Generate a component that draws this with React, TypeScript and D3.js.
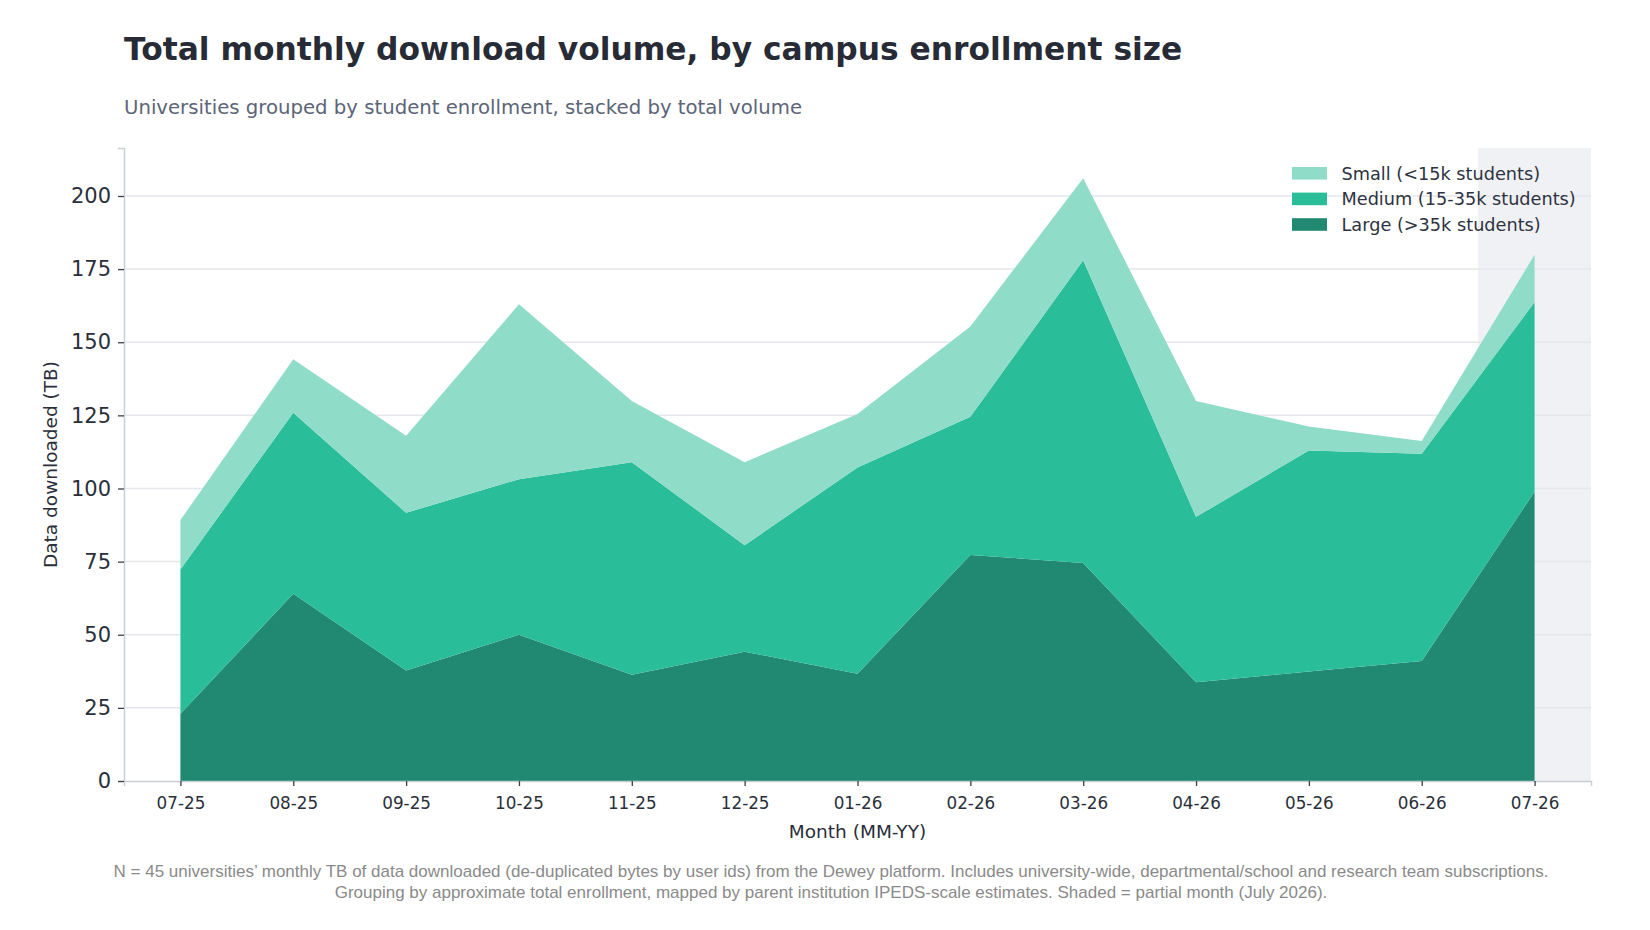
import React, { useEffect, useRef } from "react";
import * as d3 from "d3";

const months = [
  "07-25", "08-25", "09-25", "10-25", "11-25", "12-25", "01-26",
  "02-26", "03-26", "04-26", "05-26", "06-26", "07-26",
];

// TB per month
const large = [23, 64, 37.8, 50, 36.3, 44.2, 36.7, 77.3, 74.5, 33.8, 37.4, 41, 98.9];
const medium = [49.3, 61.9, 53.9, 53.2, 72.7, 36.4, 70.5, 47.2, 103.5, 56.5, 75.6, 70.9, 64.8];
const small = [16.9, 18.3, 26.3, 59.8, 20.9, 28.4, 18.3, 30.9, 28.1, 39.6, 8.2, 4.3, 16.2];

const yTicks = [0, 25, 50, 75, 100, 125, 150, 175, 200];

const seriesKeys = ["large", "medium", "small"] as const;
const seriesLabels: Record<string, string> = {
  small: "Small (<15k students)",
  medium: "Medium (15-35k students)",
  large: "Large (>35k students)",
};
const colors: Record<string, string> = {
  small: "#8fdcc9",
  medium: "#29bd9a",
  large: "#218871",
};

const partialMonth = "07-26";

const App = () => {
  const ref = useRef<SVGSVGElement | null>(null);

  useEffect(() => {
    document.body.style.margin = "0";
    const width = 1650;
    const height = 930;
    const margin = { top: 148, right: 59, bottom: 149, left: 124 };
    const w = width - margin.left - margin.right;
    const h = height - margin.top - margin.bottom;

    const svg = d3.select(ref.current);
    svg.selectAll("*").remove();

    const rows = months.map((m, i) => ({
      month: m,
      large: large[i],
      medium: medium[i],
      small: small[i],
    }));

    const x = d3.scaleLinear().domain([-0.5, months.length - 0.5]).range([0, w]);
    const maxTotal = d3.max(rows, (d) => d.large + d.medium + d.small)!;
    const y = d3.scaleLinear().domain([0, maxTotal * 1.05]).range([h, 0]);

    const g = svg
      .append("g")
      .attr("transform", `translate(${margin.left},${margin.top})`);

    // Partial month shading
    const pi = months.indexOf(partialMonth);
    g.append("rect")
      .attr("x", x(pi - 0.5))
      .attr("y", 0)
      .attr("width", x(pi + 0.5) - x(pi - 0.5))
      .attr("height", h)
      .attr("fill", "#f0f1f5");

    // Grid
    g.append("g")
      .selectAll("line")
      .data(yTicks.filter((t) => t > 0))
      .join("line")
      .attr("x1", 0)
      .attr("x2", w)
      .attr("y1", (d) => y(d))
      .attr("y2", (d) => y(d))
      .attr("stroke", "#e6e7ec")
      .attr("stroke-width", 1.5);

    // Stacked areas
    const stack = d3.stack<any>().keys(seriesKeys as any);
    const layers = stack(rows);
    const area = d3
      .area<any>()
      .x((_, i) => x(i))
      .y0((d) => y(d[0]))
      .y1((d) => y(d[1]));

    g.append("g")
      .selectAll("path")
      .data(layers)
      .join("path")
      .attr("fill", (d) => colors[d.key])
      .attr("d", area as any);

    // X axis
    const xAxis = g
      .append("g")
      .attr("transform", `translate(0,${h})`)
      .call(
        d3
          .axisBottom(x)
          .tickValues(d3.range(months.length))
          .tickFormat((d) => months[d as number])
          .tickSize(5)
          .tickPadding(11)
      );
    xAxis.select(".domain").attr("stroke", "#c9cdd6").attr("stroke-width", 1.5);
    xAxis.selectAll(".tick line").attr("stroke", "#3a3f4b").attr("stroke-width", 1.3);
    xAxis
      .selectAll(".tick text")
      .attr("fill", "#2a2f3a")
      .attr("font-size", 16.8)
      .attr("font-family", "DejaVu Sans");

    // Y axis
    const yAxis = g
      .append("g")
      .call(d3.axisLeft(y).tickValues(yTicks).tickSize(6).tickPadding(7));
    yAxis.select(".domain").attr("stroke", "#c9cdd6").attr("stroke-width", 1.5);
    yAxis.selectAll(".tick line").attr("stroke", "#3a3f4b").attr("stroke-width", 1.3);
    yAxis
      .selectAll(".tick text")
      .attr("fill", "#2a2f3a")
      .attr("font-size", 21)
      .attr("font-family", "DejaVu Sans");

    // Axis labels
    svg
      .append("text")
      .attr("x", margin.left + w / 2)
      .attr("y", 838)
      .attr("text-anchor", "middle")
      .attr("font-family", "DejaVu Sans")
      .attr("font-size", 18.5)
      .attr("fill", "#2a2f3a")
      .text("Month (MM-YY)");

    svg
      .append("text")
      .attr("transform", `translate(57,${margin.top + h / 2}) rotate(-90)`)
      .attr("text-anchor", "middle")
      .attr("font-family", "DejaVu Sans")
      .attr("font-size", 18.5)
      .attr("fill", "#2a2f3a")
      .text("Data downloaded (TB)");

    // Legend
    const legendOrder = ["small", "medium", "large"];
    const legend = svg.append("g").attr("transform", "translate(1292,167)");
    legendOrder.forEach((k, i) => {
      const row = legend.append("g").attr("transform", `translate(0,${i * 25.6})`);
      row
        .append("rect")
        .attr("width", 35)
        .attr("height", 12.6)
        .attr("fill", colors[k]);
      row
        .append("text")
        .attr("x", 49.5)
        .attr("y", 12.5)
        .attr("font-family", "DejaVu Sans")
        .attr("font-size", 17.7)
        .attr("fill", "#2d3340")
        .text(seriesLabels[k]);
    });

    // Title block
    svg
      .append("text")
      .attr("x", 124)
      .attr("y", 60)
      .attr("font-family", "DejaVu Sans")
      .attr("font-weight", "bold")
      .attr("font-size", 31.3)
      .attr("fill", "#262b36")
      .text("Total monthly download volume, by campus enrollment size");

    svg
      .append("text")
      .attr("x", 124)
      .attr("y", 114)
      .attr("font-family", "DejaVu Sans")
      .attr("font-size", 19.7)
      .attr("fill", "#5c6578")
      .text("Universities grouped by student enrollment, stacked by total volume");

    // Footer
    const footer = [
      "N = 45 universities\u2019 monthly TB of data downloaded (de-duplicated bytes by user ids) from the Dewey platform. Includes university-wide, departmental/school and research team subscriptions.",
      "Grouping by approximate total enrollment, mapped by parent institution IPEDS-scale estimates. Shaded = partial month (July 2026).",
    ];
    svg
      .append("g")
      .selectAll("text")
      .data(footer)
      .join("text")
      .attr("x", 831)
      .attr("y", (_, i) => 877 + i * 21)
      .attr("text-anchor", "middle")
      .attr("font-family", "Liberation Sans, Arial, sans-serif")
      .attr("font-size", 17)
      .attr("fill", "#8a8a8a")
      .text((d) => d);
  }, []);

  return (
    <div style={{ width: 1650, height: 930, background: "#fff" }}>
      <svg ref={ref} width={1650} height={930} viewBox="0 0 1650 930" />
    </div>
  );
};

export default App;
